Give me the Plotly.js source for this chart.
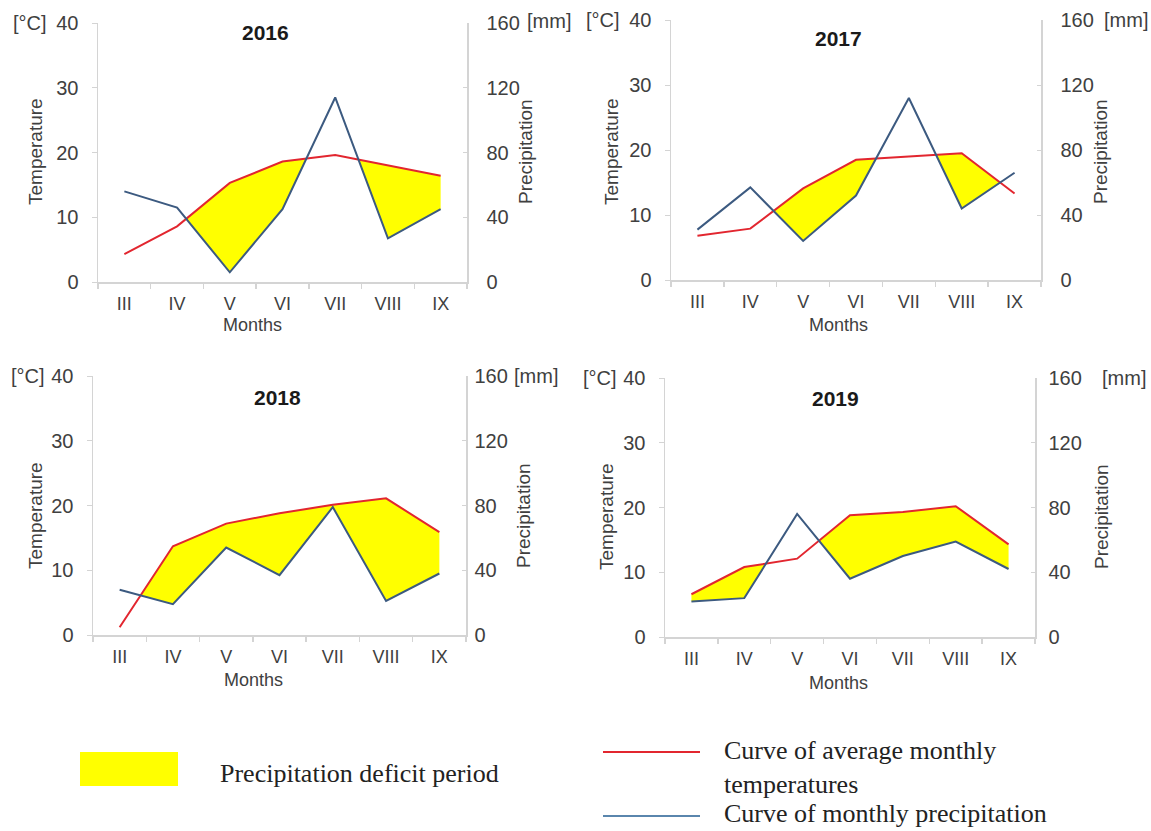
<!DOCTYPE html>
<html>
<head>
<meta charset="utf-8">
<script src="https://cdn.plot.ly/plotly-3.0.1.min.js"></script>
<style>html,body{margin:0;padding:0;background:#fff;}#chart{width:1151px;height:831px;}</style>
</head>
<body>
<div id="chart"></div>
<script>
// ---- Data ----
const months = ['III', 'IV', 'V', 'VI', 'VII', 'VIII', 'IX'];
const years = ['2016', '2017', '2018', '2019'];
const temp2016 = [4.3, 8.6, 15.3, 18.6, 19.6, 18.0, 16.4];
const prec2016 = [56, 46, 6, 45, 114, 27, 45];
const temp2017 = [6.8, 7.9, 14.1, 18.5, 19.0, 19.5, 13.3];
const prec2017 = [31, 57, 24, 52, 112, 44, 66];
const temp2018 = [1.2, 13.7, 17.2, 18.8, 20.1, 21.1, 15.9];
const prec2018 = [28, 19, 54, 37, 79, 21, 38];
const temp2019 = [6.6, 10.8, 12.1, 18.8, 19.3, 20.2, 14.3];
const prec2019 = [22, 24, 76, 36, 50, 59, 42];
const tempTicks = [0, 10, 20, 30, 40];
const precTicks = [0, 40, 80, 120, 160];
const legendLabels = ['Precipitation deficit period', 'Curve of average monthly<br>temperatures', 'Curve of monthly precipitation'];

const temps = [temp2016, temp2017, temp2018, temp2019];
const precs = [prec2016, prec2017, prec2018, prec2019];

// ---- Layout geometry (pixels) ----
const W = 1151, H = 831;
const px = x => x / W;
const py = y => 1 - y / H;
const boxes = [
  {l: 98, r: 467, t: 23, b: 282, rs: 14, title: [265, 32], months: [252, 325], temp: [36, 152], prec: [526, 152], c: [30, 23], mm: [549, 21]},
  {l: 671, r: 1041, t: 20, b: 280, rs: 14, title: [838, 38], months: [838, 325], temp: [612, 152], prec: [1101, 152], c: [603, 20], mm: [1126, 20]},
  {l: 93, r: 466, t: 376, b: 635, rs: 3, title: [277, 397], months: [253, 680], temp: [35, 516], prec: [523, 516], c: [28, 376], mm: [536, 376]},
  {l: 665, r: 1035, t: 378, b: 637, rs: 8, title: [835, 399], months: [838, 683], temp: [606, 517], prec: [1101, 517], c: [600, 378], mm: [1124, 378]}
];

const RED = '#e2262f', BLUE = '#3c5a80', YELLOW = '#ffff00', AX = '#d4d4d4', TXT = '#404040';
const FONT = 'Liberation Sans, Arial, sans-serif';

// polygons where temperature is above precipitation/4 (deficit)
function deficitPolys(T, P) {
  const n = T.length, polys = [];
  let cur = null;
  const q = P.map(v => v / 4);
  for (let i = 0; i < n; i++) {
    const d = T[i] - q[i];
    if (d >= 0) {
      if (!cur) cur = {x: [], up: [], lo: []};
      cur.x.push(i); cur.up.push(T[i]); cur.lo.push(q[i]);
    }
    if (i < n - 1) {
      const dn = T[i + 1] - q[i + 1];
      if ((d >= 0) !== (dn >= 0)) {
        const t = d / (d - dn);
        const xc = i + t, yc = T[i] + t * (T[i + 1] - T[i]);
        if (cur) { cur.x.push(xc); cur.up.push(yc); cur.lo.push(yc); polys.push(cur); cur = null; }
        else { cur = {x: [xc], up: [yc], lo: [yc]}; }
      }
    }
  }
  if (cur) polys.push(cur);
  return polys.map(p => ({
    x: p.x.concat(p.x.slice().reverse()).concat([p.x[0]]),
    y: p.up.concat(p.lo.slice().reverse()).concat([p.up[0]])
  }));
}

const traces = [];
const layout = {
  width: W, height: H,
  margin: {l: 0, r: 0, t: 0, b: 0},
  paper_bgcolor: '#fff', plot_bgcolor: '#fff',
  showlegend: false,
  font: {family: FONT, color: TXT},
  annotations: [], shapes: []
};

const xIdx = months.map((m, i) => i);

boxes.forEach((b, k) => {
  const n = k + 1;
  const xa = 'x' + (n === 1 ? '' : n);
  const yl = 'y' + (2 * n - 1 === 1 ? '' : 2 * n - 1);
  const yr = 'y' + (2 * n);
  const xKey = 'xaxis' + (n === 1 ? '' : n);
  const ylKey = 'yaxis' + (2 * n - 1 === 1 ? '' : 2 * n - 1);
  const yrKey = 'yaxis' + (2 * n);

  layout[xKey] = {
    domain: [px(b.l), px(b.r)], anchor: yl, range: [-0.5, 6.5],
    showline: true, linecolor: AX, linewidth: 1.5, showgrid: false, zeroline: false,
    tickmode: 'array', tickvals: xIdx, ticktext: months, ticks: '', ticklabelstandoff: 5,
    tickfont: {size: 18, color: TXT, family: FONT},
    minor: {tick0: -0.5, dtick: 1, ticks: 'outside', ticklen: 5, tickcolor: AX, tickwidth: 1.5, showgrid: false},
    fixedrange: true
  };
  layout[ylKey] = {
    domain: [py(b.b), py(b.t)], anchor: xa, range: [0, 40],
    tickmode: 'array', tickvals: tempTicks,
    showline: true, linecolor: AX, linewidth: 1.5, showgrid: false, zeroline: false,
    ticks: 'outside', ticklen: 5, tickcolor: AX, ticklabelstandoff: 9,
    tickfont: {size: 20, color: TXT, family: FONT}, fixedrange: true
  };
  layout[yrKey] = {
    domain: [py(b.b), py(b.t)], anchor: xa, overlaying: yl, side: 'right', range: [0, 160],
    tickmode: 'array', tickvals: precTicks,
    showline: true, linecolor: AX, linewidth: 1.5, showgrid: false, zeroline: false,
    ticks: 'inside', ticklen: 4, tickcolor: AX, ticklabelstandoff: b.rs,
    tickfont: {size: 20, color: TXT, family: FONT}, fixedrange: true
  };

  const T = temps[k], P = precs[k];
  deficitPolys(T, P).forEach(poly => {
    traces.push({type: 'scatter', mode: 'lines', x: poly.x, y: poly.y, xaxis: xa, yaxis: yl,
      fill: 'toself', fillcolor: YELLOW, line: {width: 0, color: YELLOW}, hoverinfo: 'skip'});
  });
  traces.push({type: 'scatter', mode: 'lines', x: xIdx, y: P, xaxis: xa, yaxis: yr,
    line: {color: BLUE, width: 2}, name: 'Precipitation'});
  traces.push({type: 'scatter', mode: 'lines', x: xIdx, y: T, xaxis: xa, yaxis: yl,
    line: {color: RED, width: 2}, name: 'Temperature'});

  const ann = (text, x, y, extra) => layout.annotations.push(Object.assign({
    text, x: px(x), y: py(y), xref: 'paper', yref: 'paper', showarrow: false,
    xanchor: 'center', yanchor: 'middle', font: {size: 19, color: TXT, family: FONT}
  }, extra || {}));
  ann('<b>' + years[k] + '</b>', b.title[0], b.title[1], {font: {size: 21, color: '#1a1a1a', family: FONT}});
  ann('Months', b.months[0], b.months[1], {font: {size: 18, color: TXT, family: FONT}});
  ann('Temperature', b.temp[0], b.temp[1], {textangle: -90});
  ann('Precipitation', b.prec[0], b.prec[1], {textangle: -90});
  ann('[°C]', b.c[0], b.c[1], {font: {size: 20, color: TXT, family: FONT}});
  ann('[mm]', b.mm[0], b.mm[1], {font: {size: 20, color: TXT, family: FONT}});
});

// ---- Legend (bottom) ----
layout.shapes.push({type: 'rect', xref: 'paper', yref: 'paper', x0: px(80), x1: px(178), y0: py(786), y1: py(752),
  fillcolor: YELLOW, line: {width: 0}});
layout.shapes.push({type: 'line', xref: 'paper', yref: 'paper', x0: px(603), x1: px(700), y0: py(752), y1: py(752),
  line: {color: RED, width: 2}});
layout.shapes.push({type: 'line', xref: 'paper', yref: 'paper', x0: px(603), x1: px(700), y0: py(816), y1: py(816),
  line: {color: '#5a86ad', width: 2}});
const SERIF = 'Liberation Serif, Times New Roman, serif';
layout.annotations.push({text: legendLabels[0], x: px(218), y: py(773), xref: 'paper', yref: 'paper', showarrow: false,
  xanchor: 'left', yanchor: 'middle', font: {size: 26, color: '#222', family: SERIF}});
layout.annotations.push({text: legendLabels[1], x: px(722), y: py(767), xref: 'paper', yref: 'paper', showarrow: false,
  xanchor: 'left', yanchor: 'middle', align: 'left', font: {size: 26, color: '#222', family: SERIF}});
layout.annotations.push({text: legendLabels[2], x: px(722), y: py(813), xref: 'paper', yref: 'paper', showarrow: false,
  xanchor: 'left', yanchor: 'middle', font: {size: 26, color: '#222', family: SERIF}});

Plotly.newPlot('chart', traces, layout, {staticPlot: true, displayModeBar: false});
</script>
</body>
</html>
